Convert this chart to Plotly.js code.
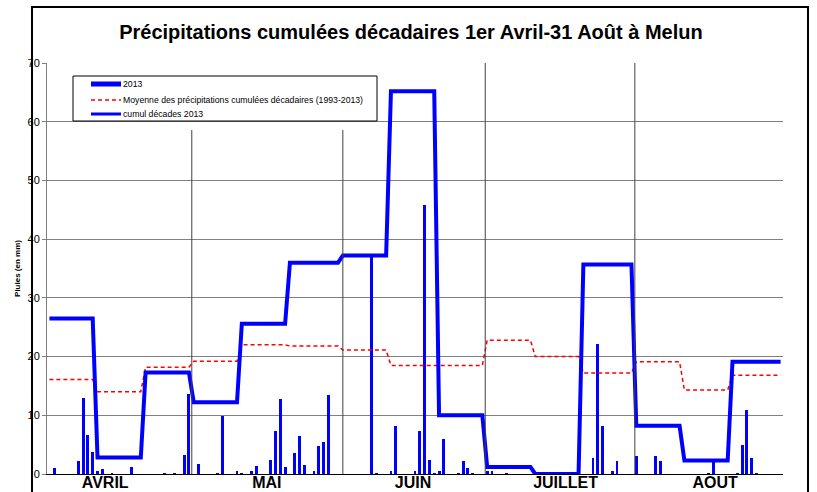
<!DOCTYPE html>
<html>
<head>
<meta charset="utf-8">
<script src="https://cdn.plot.ly/plotly-3.0.1.min.js"></script>
<style>
  html, body { margin: 0; padding: 0; background: #fff; }
  #chart { width: 817px; height: 492px; }
</style>
</head>
<body>
<div id="chart"></div>
<script>
// ---- Data ----
const monthLabels = ['AVRIL', 'MAI', 'JUIN', 'JUILLET', 'AOUT'];

// Daily rainfall 2013 (mm), one value per day of each month
const rainApr = [0, 1.0, 0, 0, 0, 0, 2.2, 12.9, 6.7, 3.7,
                 0.5, 0.9, 0, 0.15, 0, 0, 0, 1.25, 0, 0,
                 0, 0, 0, 0, 0.2, 0, 0.2, 0, 3.2, 13.7];
const rainMay = [0, 1.65, 0, 0, 0, 0.2, 9.8, 0, 0, 0.55,
                 0.1, 0, 0.5, 1.3, 0, 0, 2.4, 7.4, 12.8, 1.2,
                 0, 3.6, 6.5, 1.6, 0, 0.55, 4.8, 5.4, 13.5, 0, 0];
const rainJun = [0, 0, 0, 0, 0, 0, 37.0, 0.2, 0, 0,
                 0.55, 8.2, 0, 0, 0, 0.55, 7.4, 45.8, 2.4, 0.25,
                 0.45, 5.9, 0, 0, 0.2, 2.2, 1.0, 0.2, 0, 0];
const rainJul = [0.55, 0.45, 0, 0, 0.2, 0, 0, 0, 0, 0,
                 0, 0, 0, 0, 0, 0, 0, 0, 0, 0,
                 0, 0, 2.65, 22.1, 8.2, 0, 0.55, 2.2, 0, 0, 0];
const rainAug = [3.0, 0, 0, 0, 3.0, 2.2, 0, 0, 0, 0,
                 0, 0, 0, 0, 0, 0.15, 2.1, 0, 0, 0,
                 0, 0.2, 4.9, 10.9, 2.8, 0.25, 0, 0, 0, 0, 0];

// Ten-day (décade) totals 2013 and 1993-2013 mean, 3 décades per month
const decadeCumul2013 = [26.5, 2.8, 17.3, 12.2, 25.6, 36.0, 37.2, 65.2, 10.0, 1.2, 0.0, 35.7, 8.2, 2.3, 19.1];
const decadeMean = [16.1, 14.0, 18.2, 19.2, 22.0, 21.8, 21.1, 18.5, 18.5, 22.8, 20.0, 17.2, 19.1, 14.3, 16.8];

const seriesNames = ['2013',
  'Moyenne des précipitations cumulées décadaires (1993-2013)',
  'cumul décades 2013'];

// ---- Build daily series from the arrays above ----
const months = [rainApr, rainMay, rainJun, rainJul, rainAug];
const x = [], daily = [], cumulDaily = [], meanDaily = [];
let d = 0;
months.forEach((arr, mi) => {
  arr.forEach((v, k) => {
    const dec = mi * 3 + Math.min(Math.floor(k / 10), 2);
    x.push(d);
    daily.push(v);
    cumulDaily.push(decadeCumul2013[dec]);
    meanDaily.push(decadeMean[dec]);
    d++;
  });
});

const FONT = 'Liberation Sans, Arial, sans-serif';
const BLUE = '#0000ff';
const RED = '#ff0000';

const traces = [
  { type: 'bar', x: x, y: daily, width: 0.6, marker: { color: BLUE, line: { width: 0 } },
    name: seriesNames[0], showlegend: false },
  { type: 'scatter', mode: 'lines', x: x, y: meanDaily, name: seriesNames[1],
    showlegend: false, line: { color: RED, width: 1.5, dash: '4px,3px' } },
  { type: 'scatter', mode: 'lines', x: x, y: cumulDaily, name: seriesNames[2],
    showlegend: false, line: { color: BLUE, width: 4 } }
];

// plot area in pixels: x 47..783, y 63..474
const pxX = px => (px - 47) / 736;
const pxY = py => (474 - py) / 411;

// month label positions (day index) as placed in the reference
const labelPos = [11.6, 45.2, 75.6, 107.3, 138.4];

const dividers = [
  { x: 29.6, top: 58.6 },
  { x: 61.0, top: 58.6 },
  { x: 90.6, top: 70 },
  { x: 121.7, top: 70 }
];

const shapes = dividers.map(s => ({
  type: 'line', xref: 'x', yref: 'y', x0: s.x, x1: s.x, y0: 0, y1: s.top,
  line: { color: '#404040', width: 1 }, layer: 'above'
}));
// outer frame
shapes.push({
  type: 'rect', xref: 'paper', yref: 'paper',
  x0: pxX(32), x1: pxX(808), y0: pxY(520), y1: pxY(7),
  line: { color: '#000', width: 2 }, fillcolor: 'rgba(0,0,0,0)'
});
// legend box and samples
shapes.push({
  type: 'rect', xref: 'paper', yref: 'paper',
  x0: pxX(73), x1: pxX(377), y0: pxY(121), y1: pxY(76),
  line: { color: '#000', width: 1 }, fillcolor: '#fff', layer: 'above'
});
const legendRows = [
  { y: 84, color: BLUE, width: 5, dash: 'solid' },
  { y: 100, color: RED, width: 1.5, dash: '4px,3px' },
  { y: 114, color: BLUE, width: 3, dash: 'solid' }
];
const annotations = [];
legendRows.forEach((r, i) => {
  shapes.push({
    type: 'line', xref: 'paper', yref: 'paper',
    x0: pxX(91), x1: pxX(121), y0: pxY(r.y), y1: pxY(r.y),
    line: { color: r.color, width: r.width, dash: r.dash }, layer: 'above'
  });
  annotations.push({
    xref: 'paper', yref: 'paper', x: pxX(121), y: pxY(r.y),
    xanchor: 'left', yanchor: 'middle', showarrow: false,
    text: seriesNames[i], font: { family: FONT, size: 8.7, color: '#000' }
  });
});

const layout = {
  width: 817, height: 492,
  margin: { l: 47, r: 34, t: 63, b: 18, pad: 0 },
  paper_bgcolor: '#fff', plot_bgcolor: '#fff',
  font: { family: FONT, color: '#000' },
  title: {
    text: 'Précipitations cumulées décadaires 1er Avril-31 Août à Melun',
    font: { family: FONT, size: 20, weight: 'bold', color: '#000' },
    xref: 'container', x: 0.503, xanchor: 'center',
    yref: 'container', y: 1 - 32 / 492, yanchor: 'middle'
  },
  showlegend: false,
  bargap: 0,
  xaxis: {
    range: [-0.5, 152.5], showgrid: false, zeroline: false,
    showline: true, linecolor: '#000', linewidth: 1,
    tickmode: 'array', tickvals: labelPos, ticktext: monthLabels,
    ticks: '', ticklabelstandoff: -6,
    tickfont: { family: FONT, size: 16, weight: 'bold', color: '#000' },
    fixedrange: true
  },
  yaxis: {
    range: [0, 70], dtick: 10, tick0: 0, showgrid: true,
    gridcolor: '#808080', gridwidth: 1, zeroline: false,
    showline: true, linecolor: '#808080', linewidth: 1,
    ticks: 'outside', ticklen: 4, tickcolor: '#808080',
    tickfont: { family: FONT, size: 11, color: '#000' },
    title: { text: 'Pluies (en mm)', font: { family: FONT, size: 8, weight: 'bold', color: '#000' }, standoff: 5 },
    fixedrange: true
  },
  shapes: shapes,
  annotations: annotations
};

Plotly.newPlot('chart', traces, layout, { displayModeBar: false, staticPlot: true });
</script>
</body>
</html>
